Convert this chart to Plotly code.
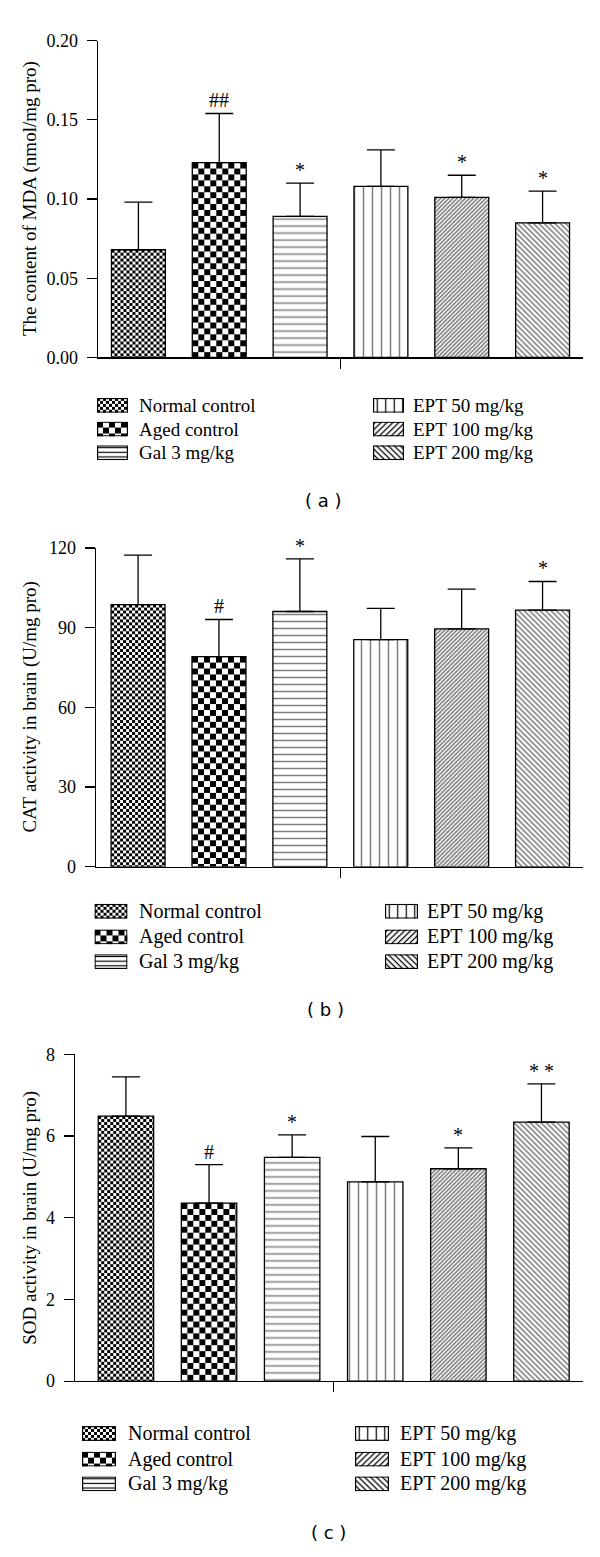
import base64
import plotly.graph_objects as go

FIG_W, FIG_H = 600, 1557

# ---------------- data ----------------
groups = ["Normal control", "Aged control", "Gal 3 mg/kg",
          "EPT 50 mg/kg", "EPT 100 mg/kg", "EPT 200 mg/kg"]
x_idx = [0, 1, 2, 3, 4, 5]

mda_mean = [0.068, 0.123, 0.089, 0.108, 0.101, 0.085]
mda_err = [0.030, 0.031, 0.021, 0.023, 0.014, 0.020]
mda_sig = ["", "##", "*", "", "*", "*"]
mda_ticks = [0.0, 0.05, 0.10, 0.15, 0.20]
mda_ticktext = ["0.00", "0.05", "0.10", "0.15", "0.20"]

cat_mean = [98.7, 79.1, 96.1, 85.5, 89.6, 96.6]
cat_err = [18.6, 14.0, 19.8, 11.8, 14.9, 10.8]
cat_sig = ["", "#", "*", "", "", "*"]
cat_ticks = [0, 30, 60, 90, 120]
cat_ticktext = ["0", "30", "60", "90", "120"]

sod_mean = [6.49, 4.36, 5.48, 4.88, 5.20, 6.34]
sod_err = [0.96, 0.94, 0.55, 1.11, 0.51, 0.94]
sod_sig = ["", "#", "*", "", "*", "* *"]
sod_ticks = [0, 2, 4, 6, 8]
sod_ticktext = ["0", "2", "4", "6", "8"]

y_titles = ["The content of MDA (nmol/mg pro)",
            "CAT activity in brain (U/mg pro)",
            "SOD activity in brain (U/mg pro)"]
panel_tags = ["( a )", "( b )", "( c )"]

# ---------------- styles ----------------
SERIF = "Liberation Serif"
fill_kind = ["checker_s", "checker_l", "h", "v", "fd", "bd"]
pat_shape = ["", "", "-", "|", "/", "\\"]
pat_size = [4, 4, 7, 9, 2.9, 3.8]
pat_solid = [0.1, 0.1, 1.5 / 7, 1.5 / 9, 0.55, 0.4]
bar_fill = ["rgba(0,0,0,0)", "rgba(0,0,0,0)", "white", "white", "white", "white"]

panels = [
    dict(mean=mda_mean, err=mda_err, sig=mda_sig, ticks=mda_ticks, ticktext=mda_ticktext,
         yr=0.20, xl=98, xr=583, yt=31, yb=352, x0=-0.5,
         rows=[400.5, 424.5, 448.5], lx=97, rx=373, sw=31, sh=15, ltx=137, rtx=411, lfs=19,
         tag_x=323, tag_y=497),
    dict(mean=cat_mean, err=cat_err, sig=cat_sig, ticks=cat_ticks, ticktext=cat_ticktext,
         yr=120, xl=96, xr=583, yt=545, yb=868, x0=-0.52,
         rows=[913, 939, 964], lx=94.5, rx=385, sw=33, sh=15, ltx=136.5, rtx=425, lfs=20,
         tag_x=325, tag_y=1013),
    dict(mean=sod_mean, err=sod_err, sig=sod_sig, ticks=sod_ticks, ticktext=sod_ticktext,
         yr=8, xl=75, xr=583, yt=1058, yb=1389, x0=-0.613,
         rows=[1442, 1468, 1493], lx=82, rx=355, sw=34, sh=15, ltx=126, rtx=398, lfs=20,
         tag_x=328, tag_y=1542),
]
X1 = 5.5
BAR_W = 0.667


def pattern_def(kind):
    if kind == "checker_s" or kind == "checker_l":
        c = 3 if kind == "checker_s" else 6
        return (f'<pattern id="p" width="{2*c}" height="{2*c}" patternUnits="userSpaceOnUse">'
                f'<rect width="{2*c}" height="{2*c}" fill="white"/>'
                f'<rect width="{c}" height="{c}" fill="black"/>'
                f'<rect x="{c}" y="{c}" width="{c}" height="{c}" fill="black"/></pattern>')
    if kind == "h":
        s = 4.7
        return (f'<pattern id="p" width="10" height="{s}" patternUnits="userSpaceOnUse">'
                f'<rect width="10" height="{s}" fill="white"/>'
                f'<line x1="0" y1="{s/2}" x2="10" y2="{s/2}" stroke="black" stroke-width="1.2"/></pattern>')
    if kind == "v":
        s = 8.5
        return (f'<pattern id="p" width="{s}" height="10" patternUnits="userSpaceOnUse">'
                f'<rect width="{s}" height="10" fill="white"/>'
                f'<line x1="{s/2}" y1="0" x2="{s/2}" y2="10" stroke="black" stroke-width="1.2"/></pattern>')
    ang = -45 if kind == "fd" else 45
    s = 4.2
    return (f'<pattern id="p" width="10" height="{s}" patternUnits="userSpaceOnUse" '
            f'patternTransform="rotate({ang})">'
            f'<rect width="10" height="{s}" fill="white"/>'
            f'<line x1="0" y1="{s/2}" x2="10" y2="{s/2}" stroke="black" stroke-width="1.3"/></pattern>')


def svg_uri(kind, w, h, border=False):
    b = ''
    if border:
        b = (f'<rect x="0.6" y="0.6" width="{w-1.2}" height="{h-1.2}" fill="none" '
             f'stroke="black" stroke-width="1.2"/>')
    svg = (f'<svg xmlns="http://www.w3.org/2000/svg" width="{w}" height="{h}" '
           f'viewBox="0 0 {w} {h}" preserveAspectRatio="none"><defs>{pattern_def(kind)}</defs>'
           f'<rect width="{w}" height="{h}" fill="url(#p)"/>{b}</svg>')
    return "data:image/svg+xml;base64," + base64.b64encode(svg.encode()).decode()


fig = go.Figure()
images = []
annotations = []
layout_axes = {}

for k, p in enumerate(panels):
    n = "" if k == 0 else str(k + 1)
    xa, ya = "x" + n, "y" + n

    for i in range(6):
        marker = dict(color=bar_fill[i], line=dict(color="black", width=1.3))
        if pat_shape[i]:
            marker["pattern"] = dict(shape=pat_shape[i], size=pat_size[i],
                                     solidity=pat_solid[i], fgcolor="black",
                                     fillmode="overlay")
        fig.add_trace(go.Bar(
            x=[x_idx[i]], y=[p["mean"][i]], width=BAR_W, xaxis=xa, yaxis=ya,
            name=groups[i], marker=marker,
            error_y=dict(type="data", array=[p["err"][i]], arrayminus=[0], symmetric=False,
                         color="black", thickness=1.3, width=14),
            hoverinfo="skip", showlegend=False,
        ))

    plot_w = p["xr"] - p["xl"]
    plot_h = p["yb"] - p["yt"]
    px_x = plot_w / (X1 - p["x0"])
    px_y = plot_h / p["yr"]

    # checkerboard fills (behind the bar outlines)
    for i in range(6):
        if fill_kind[i].startswith("checker"):
            wpx = BAR_W * px_x
            hpx = p["mean"][i] * px_y
            images.append(dict(
                source=svg_uri(fill_kind[i], round(wpx, 2), round(hpx, 2)),
                xref=xa, yref=ya, x=x_idx[i] - BAR_W / 2, y=p["mean"][i],
                sizex=BAR_W, sizey=p["mean"][i], xanchor="left", yanchor="top",
                sizing="stretch", layer="below"))

    # significance marks
    for i in range(6):
        if p["sig"][i]:
            annotations.append(dict(
                x=x_idx[i], y=p["mean"][i] + p["err"][i], xref=xa, yref=ya,
                text=p["sig"][i], showarrow=False, yanchor="bottom", yshift=0,
                font=dict(family=SERIF, size=20, color="black")))

    layout_axes["xaxis" + n] = dict(
        domain=[p["xl"] / FIG_W, p["xr"] / FIG_W], anchor=ya,
        range=[p["x0"], X1], showline=True, linecolor="black", linewidth=1.3,
        tickmode="array", tickvals=[2.5], ticks="outside", ticklen=10, tickwidth=1.3,
        tickcolor="black", showticklabels=False, showgrid=False, zeroline=False,
        fixedrange=True)
    layout_axes["yaxis" + n] = dict(
        domain=[1 - p["yb"] / FIG_H, 1 - p["yt"] / FIG_H], anchor=xa,
        range=[0, p["yr"]], showline=True, linecolor="black", linewidth=1.3,
        tickmode="array", tickvals=p["ticks"], ticktext=p["ticktext"],
        ticks="outside", ticklen=10, tickwidth=1.3, tickcolor="black",
        ticklabelstandoff=5,
        tickfont=dict(family=SERIF, size=18, color="black"),
        showgrid=False, zeroline=False, fixedrange=True)

    # y axis title
    annotations.append(dict(
        x=30 / FIG_W, y=1 - (p["yt"] + p["yb"]) / 2 / FIG_H, xref="paper", yref="paper",
        text=y_titles[k], textangle=-90, showarrow=False, xanchor="center", yanchor="middle",
        font=dict(family=SERIF, size=19, color="black")))

    # legend (two columns)
    for i in range(6):
        col = i // 3
        row = p["rows"][i % 3]
        sx = p["lx"] if col == 0 else p["rx"]
        tx = p["ltx"] if col == 0 else p["rtx"]
        images.append(dict(
            source=svg_uri(fill_kind[i], p["sw"], p["sh"], border=True),
            xref="paper", yref="paper", x=sx / FIG_W, y=1 - (row - p["sh"] / 2) / FIG_H,
            sizex=p["sw"] / FIG_W, sizey=p["sh"] / FIG_H, xanchor="left", yanchor="top",
            sizing="stretch", layer="above"))
        annotations.append(dict(
            x=tx / FIG_W, y=1 - row / FIG_H, xref="paper", yref="paper",
            text=groups[i], showarrow=False, xanchor="left", yanchor="middle",
            font=dict(family=SERIF, size=p["lfs"], color="black")))

    # panel tag
    annotations.append(dict(
        x=p["tag_x"] / FIG_W, y=1 - p["tag_y"] / FIG_H, xref="paper", yref="paper",
        text=panel_tags[k], showarrow=False, xanchor="center", yanchor="middle",
        font=dict(family="DejaVu Sans", size=18, color="black")))

fig.update_layout(
    width=FIG_W, height=FIG_H, autosize=False,
    margin=dict(l=0, r=0, t=0, b=0),
    paper_bgcolor="white", plot_bgcolor="rgba(0,0,0,0)",
    showlegend=False, barmode="overlay",
    font=dict(family=SERIF, color="black"),
    images=images, annotations=annotations,
    **layout_axes,
)

fig.write_html("out.html", config={"displayModeBar": False, "staticPlot": True},
               post_script="document.body.style.margin='0px';")
